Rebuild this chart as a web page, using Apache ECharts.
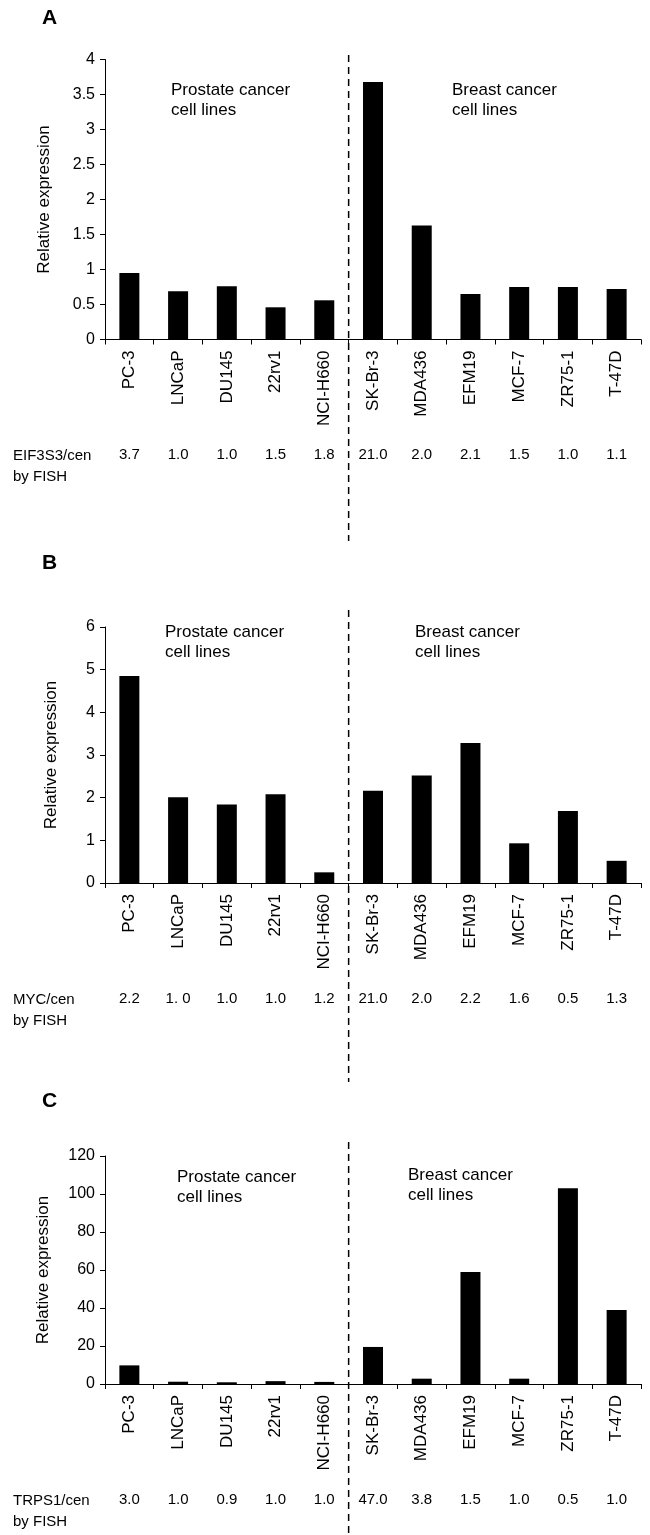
<!DOCTYPE html>
<html><head><meta charset="utf-8">
<script src="https://cdn.jsdelivr.net/npm/echarts@6/dist/echarts.min.js"></script>
<style>html,body{margin:0;padding:0;background:#fff}#c{width:650px;height:1535px}</style>
</head><body><div id="c"></div>
<script>
// ---- data ----
const categories = ['PC-3','LNCaP','DU145','22rv1','NCI-H660','SK-Br-3','MDA436','EFM19','MCF-7','ZR75-1','T-47D'];
const eif3s3Expr = [0.95,0.69,0.76,0.46,0.56,3.68,1.63,0.65,0.75,0.75,0.72];
const mycExpr    = [4.85,2.01,1.84,2.08,0.25,2.16,2.52,3.28,0.93,1.69,0.52];
const trps1Expr  = [9.8,1.2,0.9,1.5,1.1,19.5,2.8,59,2.8,103,39];
const eif3s3Fish = ['3.7','1.0','1.0','1.5','1.8','21.0','2.0','2.1','1.5','1.0','1.1'];
const mycFish    = ['2.2','1. 0','1.0','1.0','1.2','21.0','2.0','2.2','1.6','0.5','1.3'];
const trps1Fish  = ['3.0','1.0','0.9','1.0','1.0','47.0','3.8','1.5','1.0','0.5','1.0'];
const fishNames  = ['EIF3S3/cen','MYC/cen','TRPS1/cen'];
const panelLetters = ['A','B','C'];
const yMax = [4, 6, 120];
const yInterval = [0.5, 1, 20];

// ---- layout ----
const FONT = '"Liberation Sans", Arial, Helvetica, sans-serif';
const panels = [
  {top:59.5, height:280, nameGap:52, letterTop:8,   textTop:80,  breastLeft:452, prostLeft:171, breastTop:80,  dash:[[55,541]]},
  {top:627,  height:256, nameGap:45, letterTop:553, textTop:622, breastLeft:415, prostLeft:165, breastTop:622, dash:[[610,1082]]},
  {top:1156, height:228, nameGap:53, letterTop:1091,textTop:1167,breastLeft:408, prostLeft:177, breastTop:1165,dash:[[1142,1535]]}
];
const exprs = [eif3s3Expr, mycExpr, trps1Expr];
const fishes = [eif3s3Fish, mycFish, trps1Fish];

const grid = [], xAxis = [], yAxis = [], series = [];
panels.forEach((p,i)=>{
  grid.push({left:105, top:p.top, width:536, height:p.height});
  xAxis.push({type:'category', gridIndex:i, data:categories, boundaryGap:true,
    axisLine:{lineStyle:{color:'#000',width:1}},
    axisTick:{show:true, interval:0, length:5, lineStyle:{color:'#000'}},
    axisLabel:{interval:0, rotate:90, margin:11, fontSize:17, color:'#000', fontFamily:FONT}
  });
  yAxis.push({type:'value', gridIndex:i, min:0, max:yMax[i], interval:yInterval[i],
    axisLine:{show:true, lineStyle:{color:'#000',width:1}},
    axisTick:{show:true, length:5, lineStyle:{color:'#000'}},
    splitLine:{show:false},
    axisLabel:{fontSize:16, color:'#000', margin:10, fontFamily:FONT},
    name:'Relative expression', nameLocation:'middle', nameGap:p.nameGap, nameRotate:90,
    nameTextStyle:{fontSize:17, color:'#000', fontFamily:FONT}
  });
  series.push({type:'bar', xAxisIndex:i, yAxisIndex:i, data:exprs[i], barWidth:20,
    itemStyle:{color:'#000'}, silent:true, animation:false});
});
panels.forEach((p,i)=>{
  const f = fishes[i];
  xAxis.push({type:'category', gridIndex:i, data:categories, position:'bottom', offset:104,
    axisLine:{show:false}, axisTick:{show:false},
    axisLabel:{interval:0, margin:4, fontSize:15, color:'#000', fontFamily:FONT,
      formatter:(v,idx)=>f[idx]}
  });
});

const chart = echarts.init(document.getElementById('c'), null, {renderer:'canvas'});
chart.setOption({animation:false, grid, xAxis, yAxis, series});

const graphic = [];
panels.forEach((p,i)=>{
  const xa = chart.convertToPixel({xAxisIndex:i}, categories[4]);
  const xb = chart.convertToPixel({xAxisIndex:i}, categories[5]);
  const xd = (xa+xb)/2;
  p.dash.forEach(d=>{
    graphic.push({type:'line', shape:{x1:xd,y1:d[0],x2:xd,y2:d[1]},
      style:{stroke:'#000', lineWidth:1.5, lineDash:[7,5]}, silent:true});
  });
  graphic.push({type:'text', left:42, top:p.letterTop,
    style:{text:panelLetters[i], font:'bold 21px '+FONT, fill:'#000'}});
  graphic.push({type:'text', left:p.prostLeft, top:p.textTop,
    style:{text:'Prostate cancer\ncell lines', font:'17px '+FONT, fill:'#000', lineHeight:20}});
  graphic.push({type:'text', left:p.breastLeft, top:p.breastTop,
    style:{text:'Breast cancer\ncell lines', font:'17px '+FONT, fill:'#000', lineHeight:20}});
  const zeroY = p.top + p.height;
  graphic.push({type:'text', left:13, top:zeroY+106,
    style:{text:fishNames[i]+'\nby FISH', font:'15px '+FONT, fill:'#000', lineHeight:21}});
});
chart.setOption({graphic});
</script></body></html>
